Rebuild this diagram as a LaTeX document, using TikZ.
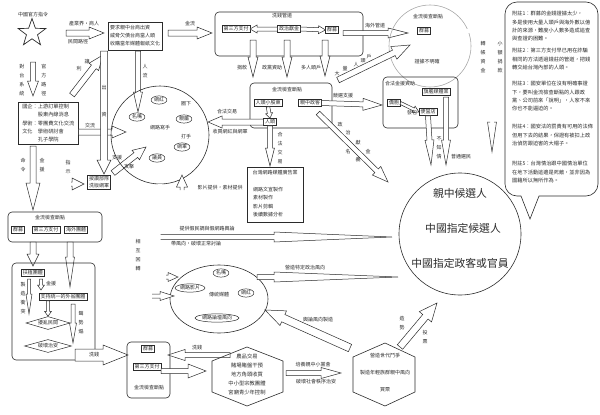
\documentclass[tikz,border=0pt]{standalone}
\usepackage{fontspec}
\setmainfont{Noto Sans CJK TC}
\usepackage{tikz}
\usetikzlibrary{calc,shapes.geometric}
\definecolor{inkgray}{HTML}{2B2B2B}
\definecolor{ringgray}{HTML}{A8A8A8}
\newcommand\blockarrow[5]{% from, to, half shaft, half head, head length
  \coordinate (ba-c) at ($(#2)!#5!(#1)$);
  \filldraw[hollow] ($(#1)!#3!90:(#2)$) -- ($(ba-c)!#3!90:(#2)$)
    -- ($(ba-c)!#4!90:(#2)$) -- (#2) -- ($(ba-c)!#4!-90:(#2)$)
    -- ($(ba-c)!#3!-90:(#2)$) -- ($(#1)!#3!-90:(#2)$) -- cycle;}
\newcommand\blockhead[5]{% same, open at the back
  \coordinate (ba-c) at ($(#2)!#5!(#1)$);
  \filldraw[hollow] ($(#1)!#3!90:(#2)$) -- ($(ba-c)!#3!90:(#2)$)
    -- ($(ba-c)!#4!90:(#2)$) -- (#2) -- ($(ba-c)!#4!-90:(#2)$)
    -- ($(ba-c)!#3!-90:(#2)$) -- ($(#1)!#3!-90:(#2)$);}
\tikzset{
  panel/.style={draw=inkgray,rounded corners=4pt,line width=0.6pt},
  tag/.style={draw=inkgray,line width=0.5pt,inner sep=1.3pt,text=inkgray,
    font=\fontsize{5}{6}\selectfont},
  word/.style={inner sep=0pt,text=inkgray,font=\fontsize{5}{6}\selectfont},
  column/.style={word,align=center,font=\fontsize{5}{9}\selectfont},
  oval/.style={ellipse,draw=inkgray,line width=0.5pt,inner sep=0.6pt,text=inkgray,
    font=\fontsize{5}{6}\selectfont},
  hollow/.style={draw=inkgray,fill=white,line width=0.5pt,line join=miter},
  pipe/.style={draw=inkgray,line width=0.5pt,double=white,double distance=3.5pt},
  hexa/.style={draw=inkgray,line width=0.6pt},
  gate/.style={diamond,aspect=3.3,draw=inkgray,line width=0.5pt,inner sep=0pt,
    minimum width=44pt,minimum height=13pt,text=inkgray,font=\fontsize{5}{6}\selectfont},
  notes/.style={word,align=left,anchor=north west,font=\fontsize{5.2}{8.4}\selectfont},
  bigword/.style={inner sep=0pt,text=inkgray,font=\fontsize{10.8}{12}\selectfont}
}
\begin{document}
\begin{tikzpicture}[x=1pt,y=-1pt]
  \useasboundingbox (0,0) rectangle (600,415);

  % --- top row: order, money routes, laundering
  \node[word] (cmd) at (33,15) {中國官方指令};
  \node[star,star points=5,star point ratio=2.5,draw=inkgray,line width=0.7pt,
    minimum size=29pt,inner sep=0pt] (star) at (32,33) {};
  \node[tag,align=left,font=\fontsize{5}{8}\selectfont,minimum width=54pt,
    minimum height=28pt] (biz) at (135,36)
    {要求親中台商出資\\威脅欠債台商當人頭\\收購當年媒體報紙文化};
  \coordinate (a1s) at (66,33);
  \coordinate (a1e) at (104,33);
  \blockarrow{a1s}{a1e}{3pt}{6pt}{15pt}
  \node[word] (l-trade) at (84,24) {產業界・商人};
  \node[word] (l-civil) at (78,42) {民間路徑};

  \coordinate (a2s) at (168,33);
  \coordinate (a2e) at (212,33);
  \blockarrow{a2s}{a2e}{3pt}{6pt}{15pt}
  \node[word] (l-gold) at (190,24) {金流};

  \draw[panel] (215,12) rectangle (363,56);
  \node[word] (wash) at (282,16) {洗錢管道};
  \node[tag] (pay1) at (236,29) {第三方支付};
  \node[tag] (gift) at (289,29) {政治獻金};
  \node[tag] (fund1) at (332,30) {群募};
  \blockarrow{gift.west}{pay1.east}{2pt}{4pt}{7pt}
  \blockarrow{gift.east}{fund1.west}{2pt}{4pt}{7pt}
  \coordinate (d1s) at (253,40);
  \coordinate (d1e) at (253,77);
  \coordinate (d2s) at (287,40);
  \coordinate (d2e) at (287,77);
  \coordinate (d3s) at (325,40);
  \coordinate (d3e) at (325,76);
  \foreach \d in {d1,d2,d3} \blockarrow{\d s}{\d e}{3pt}{5pt}{20pt};
  \node[word] (l-don) at (242,68) {捐款};
  \node[word] (l-party) at (272,68) {政黨資助};
  \node[word] (l-many) at (311,68) {多人頭戶};

  \coordinate (a3s) at (343,33);
  \coordinate (a3e) at (408,33);
  \blockarrow{a3s}{a3e}{2.5pt}{5pt}{20pt}
  \node[word] (l-sea) at (375,26) {海外管道};

  \node[circle,draw=ringgray,line width=0.6pt,minimum size=82pt,inner sep=0pt]
    (ring) at (430,46) {};
  \node[word] (ring-t) at (428,17) {金流檢查斷點};
  \node[tag] (fund2) at (424,31) {群募};
  \node[word] (l-vague) at (427,62) {證據不明確};
  \coordinate (bend1) at (492,122);
  \coordinate (tip1) at (492,152);
  \draw[pipe] (fund2.east) -| (bend1);
  \blockhead{bend1}{tip1}{2pt}{4.5pt}{30pt}
  \node[column] (l-xfer) at (483,57) {轉\\帳\\資\\金};
  \node[column] (l-small) at (500,57) {小\\額\\捐\\款};

  % --- middle: checkpoint and legal funding
  \draw[panel] (250,83) rectangle (332,128);
  \node[word] (chk1) at (287,90) {金流檢查斷點};
  \node[tag] (proxy) at (268,103) {人頭小股東};
  \node[tag] (polit) at (310,103) {親中政客};
  \node[tag] (head) at (270,122) {人頭};
  \blockarrow{proxy.south}{head.north}{1.8pt}{3.5pt}{5pt}
  \coordinate (a4e) at (270,166);
  \blockarrow{head.south}{a4e}{2.5pt}{4.5pt}{18pt}
  \node[column] (l-legal1) at (280,148) {合\\法\\交\\易};
  \coordinate (a5e) at (208,122);
  \blockarrow{head.west}{a5e}{3pt}{6pt}{14pt}
  \node[word] (l-legal2) at (227,112) {合法交易};
  \node[word] (l-buy) at (230,132) {收買網紅與網軍};
  \coordinate (a6e) at (382,105);
  \blockarrow{polit.east}{a6e}{2.5pt}{6pt}{19pt}
  \node[word] (l-camp) at (343,96) {競選支援};
  \coordinate (a7s) at (338,80);
  \coordinate (a7e) at (410,45);
  \blockarrow{a7s}{a7e}{3pt}{7pt}{18pt}
  \foreach \c/\x/\y in {大/337/74,量/345/69,人/356/65,頭/363/61,戶/369/57}
    \node[word] (l-mass-\x) at (\x,\y) {\c};
  \coordinate (a8s) at (318,113);
  \coordinate (a8e) at (388,182);
  \blockarrow{a8s}{a8e}{2.5pt}{6pt}{16pt}
  \foreach \c/\x/\y in {政/340/125,治/348/133,獻/358/143,金/368/152,名/348/152,義/358/160}
    \node[word] (l-gift-\x-\y) at (\x,\y) {\c};

  \draw[panel] (383,77) rectangle (458,128);
  \node[word] (legal) at (400,84) {合法金援資助};
  \node[tag] (kin) at (394,103) {僑胞};
  \node[tag] (brand) at (436,92) {旗艦媒體業};
  \node[tag] (shop) at (428,112) {便當店};
  \blockarrow{kin.east}{shop.west}{1.5pt}{3.5pt}{6pt}
  \node[word] (l-send) at (412,113) {發包};
  \coordinate (a9e) at (431,165);
  \coordinate (a10s) at (446,97);
  \coordinate (a10e) at (446,165);
  \blockarrow{shop.south}{a9e}{2.5pt}{4.5pt}{25pt}
  \blockarrow{a10s}{a10e}{2.5pt}{4.5pt}{25pt}
  \node[column] (l-unaware) at (439,148) {不\\知\\情};
  \node[word] (l-voter) at (461,157) {普通選民};

  % --- notes bubble
  \draw[draw=inkgray,line width=0.6pt] (521,196) [rounded corners=12pt] -- (505,196)
    -- (505,2) -- (598,2) -- (598,196) [sharp corners] -- (539,196) -- (530,219) -- cycle;
  \node[notes] (n1) at (512,11) {附註1：群募的金錢證據太少，\\多是使用大量人頭戶與海外數以億\\計的來源，難度小人數多造成追查\\與查證的困難。};
  \node[notes] (n2) at (512,48) {附註2：第三方支付早已用在詐騙\\相同的方法透過錢莊的管道，把錢\\轉交給台灣內部的人頭。};
  \node[notes] (n3) at (512,81) {附註3：國安單位在沒有明確事證\\下，要叫金流檢查斷點的人跟政\\黨、公司前來「說明」，人家不來\\你也不能逼迫的。};
  \node[notes] (n4) at (512,124) {附註4：國安法的罰責有可用的法條\\但用下去的結果，保證有被扣上政\\治偵防跟迫害的大帽子。};
  \node[notes] (n5) at (512,161) {附註5：台灣情治跟中國情治單位\\在地下活動這邊是死敵，並非因為\\國籍所以無所作為。};

  % --- target
  \node[circle,draw=inkgray,line width=0.6pt,minimum size=122pt,inner sep=0pt]
    (target) at (460,234) {};
  \node[bigword] (t1) at (460,193) {親中候選人};
  \node[bigword] (t2) at (463,228) {中國指定候選人};
  \node[bigword] (t3) at (460,263) {中國指定政客或官員};

  % --- left column
  \coordinate (a11s) at (33,62);
  \coordinate (a11e) at (33,96);
  \blockarrow{a11s}{a11e}{2.5pt}{5.5pt}{15pt}
  \node[column] (l-tw) at (22,80) {對\\台\\系\\統};
  \node[column] (l-off) at (44,80) {官\\方\\路\\徑};
  \coordinate (a12s) at (72,95);
  \coordinate (a12e) at (103,55);
  \blockarrow{a12s}{a12e}{3pt}{6pt}{15pt}
  \node[word] (l-give1) at (87,62) {讓};
  \node[word] (l-give2) at (79,69) {利};
  \node[tag,anchor=north west,align=left,font=\fontsize{5.2}{8.3}\selectfont,
    minimum width=60pt,minimum height=42pt] (soe) at (18,102)
    {國企：上游訂單控制\\　　　股東內線消息\\學術：零團費文化交流\\文化　學術研討會\\　　　孔子學院};
  \coordinate (a13e) at (126,132);
  \blockarrow{soe.east |- a13e}{a13e}{3pt}{6pt}{14pt}
  \node[word] (l-swap) at (90,126) {交流};
  \coordinate (a14s) at (104,51);
  \coordinate (a14e) at (104,174);
  \blockarrow{a14s}{a14e}{3.5pt}{7pt}{14pt}
  \node[word] (l-pay1) at (104,88) {出};
  \node[word] (l-pay2) at (104,115) {資};
  \coordinate (a15s) at (138,51);
  \coordinate (a15e) at (138,112);
  \blockarrow{a15s}{a15e}{2.5pt}{4.5pt}{20pt}
  \node[column] (l-flow) at (145,71) {人\\流};

  \coordinate (a16s) at (33,146);
  \coordinate (a16e) at (33,210);
  \blockarrow{a16s}{a16e}{3pt}{7pt}{27pt}
  \node[column] (l-order) at (23,165) {命\\令};
  \node[column] (l-aid) at (42,165) {金\\援};
  \coordinate (b2s) at (60,145);
  \coordinate (b2m) at (71,184);
  \coordinate (b2e) at (84,184);
  \draw[pipe] (b2s) |- (b2m);
  \blockhead{b2m}{b2e}{2pt}{6pt}{12pt}
  \node[column] (l-dir) at (68,167) {指\\示};
  \node[tag,align=center,font=\fontsize{5}{7}\selectfont] (troll) at (99,182) {按讚部隊\\洗版網軍};
  \coordinate (a17s) at (113,173);
  \coordinate (a17e) at (146,147);
  \blockarrow{a17s}{a17e}{3pt}{6pt}{13pt}
  \node[word] (l-back) at (117,158) {支援};
  \node[word] (l-hit) at (129,167) {攻擊};

  \draw[panel] (8,212) rectangle (102,242);
  \node[word] (chk2) at (50,218) {金流檢查斷點};
  \node[tag] (fund3) at (18,230) {群募};
  \node[tag] (pay2) at (46,230) {第三方支付};
  \node[tag] (ovs) at (76,230) {海外團體};
  \coordinate (a18s) at (33,242);
  \coordinate (a18e) at (33,266);
  \blockarrow{a18s}{a18e}{3pt}{6pt}{12pt}
  \coordinate (a19s) at (70,242);
  \coordinate (a19e) at (70,287);
  \blockarrow{a19s}{a19e}{3pt}{4.5pt}{30pt}

  \draw[panel] (12,263) rectangle (95,360);
  \node[tag] (foster) at (33,273) {扶植團體};
  \node[tag] (unify) at (63,297) {支持統一的外省團體};
  \coordinate (a20s) at (41,279);
  \coordinate (a20e) at (41,290);
  \blockarrow{a20s}{a20e}{1.5pt}{3.5pt}{5pt}
  \node[word] (l-aid2) at (51,284) {金援};
  \coordinate (a21s) at (29,279);
  \coordinate (a21e) at (29,314);
  \blockarrow{a21s}{a21e}{1.5pt}{3pt}{20pt}
  \node[column] (l-clash) at (23,298) {製\\造\\衝\\突};
  \node[gate] (riot) at (48,323) {擾亂民間};
  \node[gate,minimum width=47pt] (harm) at (48,346) {破壞治安};
  \blockarrow{unify.south -| riot.north}{riot.north}{1.5pt}{3.5pt}{5pt}
  \coordinate (a22s) at (73,304);
  \coordinate (a22e) at (73,343);
  \blockarrow{a22s}{a22e}{2pt}{3.5pt}{20pt}
  \node[column] (l-stir) at (81,323) {聲\\勢\\煽};
  \coordinate (a23s) at (75,355);
  \coordinate (a23e) at (128,355);
  \blockarrow{a23s}{a23e}{6pt}{10pt}{25pt}
  \node[word] (l-wash1) at (94,355) {洗錢};

  % --- bottom: checkpoint, local networks, youth
  \draw[panel] (127,342) rectangle (170,398);
  \node[tag] (fund4) at (148,349) {群募};
  \node[tag] (pay3) at (147,367) {第三方支付};
  \node[word] (chk3) at (149,388) {金流檢查斷點};
  \coordinate (a24s) at (230,355);
  \coordinate (a24e) at (168,355);
  \blockarrow{a24s}{a24e}{2.5pt}{5.5pt}{17pt}
  \node[word] (l-wash2) at (197,348) {洗錢};
  \coordinate (a25e) at (206,371);
  \blockarrow{pay3.east |- a25e}{a25e}{2.5pt}{7pt}{18pt}

  \draw[hexa] (247,347) -- (283,361) -- (283,392) -- (247,406) -- (212,392) -- (212,361) -- cycle;
  \node[word,align=center,font=\fontsize{5.3}{9}\selectfont] (local) at (247,374)
    {農品交易\\賭場賭盤干預\\地方角頭收買\\中小型宗教團體\\宮廟青少年控制};
  \coordinate (a26s) at (286,373);
  \coordinate (a26e) at (341,373);
  \blockarrow{a26s}{a26e}{2.5pt}{5.5pt}{20pt}
  \node[word] (l-grow) at (313,365) {培養親中小黨會};
  \node[word] (l-order2) at (316,382) {破壞社會秩序治安};

  \draw[hexa] (385,343) -- (415,357) -- (415,392) -- (385,406) -- (353,392) -- (353,357) -- cycle;
  \node[word] (y1) at (385,356) {營造世代鬥爭};
  \node[word] (y2) at (385,373) {製造年輕族群親中風向};
  \node[word] (y3) at (385,390) {買票};
  \coordinate (a27s) at (400,347);
  \coordinate (a27e) at (437,303);
  \blockarrow{a27s}{a27e}{3.5pt}{8pt}{18pt}
  \node[column] (l-rally) at (402,323) {造\\勢};
  \node[column] (l-vote) at (425,337) {投\\票};
  \coordinate (a28s) at (350,348);
  \coordinate (a28e) at (265,310);
  \blockarrow{a28s}{a28e}{4pt}{8pt}{20pt}
  \node[word] (l-op) at (318,320) {輿論風向製造};

  % --- media ellipse
  \node[ellipse,draw=inkgray,line width=0.6pt,minimum width=98pt,minimum height=68pt]
    (media) at (219,299) {};
  \node[oval] (m-pundit) at (221,273) {名嘴};
  \node[oval] (m-video) at (190,288) {網路影片};
  \node[word] (m-trad) at (219,295) {傳統媒體};
  \node[oval] (m-wh) at (246,293) {網紅};
  \node[oval] (m-forum) at (217,318) {網路論壇風向};

  % --- influencer circle
  \node[circle,draw=inkgray,line width=0.6pt,minimum size=98pt,inner sep=0pt]
    (crowd) at (160,135) {};
  \node[oval] (c-wh) at (159,100) {網紅};
  \node[oval] (c-pundit) at (137,117) {名嘴};
  \node[word] (c-writer) at (160,128) {網路寫手};
  \node[oval] (c-kin) at (184,119) {親屬};
  \node[word] (c-under) at (186,104) {圈下};
  \node[word] (c-hit) at (186,137) {打手};
  \node[oval] (c-rep) at (157,158) {議員};
  \node[oval] (c-army) at (182,147) {網軍};

  % --- ad box and feeds
  \draw[draw=inkgray,line width=0.6pt] (247,167) rectangle (303,222);
  \node[word] (ad) at (275,173) {台灣網路媒體廣告業};
  \node[word,anchor=west,align=left,font=\fontsize{5}{8.3}\selectfont] (ad-list) at (253,202)
    {網路文宣製作\\素材製作\\影片剪輯\\後續數據分析};
  \coordinate (b3s) at (247,200);
  \coordinate (b3m) at (182,190);
  \coordinate (b3e) at (182,175);
  \draw[pipe] (b3s) -| (b3m);
  \blockhead{b3m}{b3e}{2pt}{5.5pt}{12pt}
  \node[word] (l-film) at (220,188) {影片提供，素材提供};

  \coordinate (v1s) at (160,184);
  \coordinate (v1m) at (166,277);
  \coordinate (v1e) at (178,277);
  \draw[pipe] (v1s) |- (v1m);
  \blockhead{v1m}{v1e}{2pt}{4.5pt}{10pt}
  \coordinate (v2s) at (145,218);
  \coordinate (v2m) at (152,296);
  \coordinate (v2e) at (174,296);
  \draw[pipe] (v2s) |- (v2m);
  \blockhead{v2m}{v2e}{2pt}{4.5pt}{14pt}
  \node[column] (l-mutual) at (138,255) {相\\互\\回\\轉};

  \coordinate (p1s) at (160.5,237);
  \coordinate (p1e) at (392,237);
  \blockhead{p1s}{p1e}{2.5pt}{5pt}{118pt}
  \node[word] (l-poll) at (207,229) {提供假民調與假網路輿論};
  \node[word] (l-noise) at (196,244) {帶風向，破壞正常討論};
  \coordinate (p2s) at (257,277);
  \coordinate (p2e) at (398,277);
  \blockarrow{p2s}{p2e}{2.5pt}{5pt}{124pt}
  \node[word] (l-trend) at (305,268) {營造特定政治風向};
\end{tikzpicture}
\end{document}
